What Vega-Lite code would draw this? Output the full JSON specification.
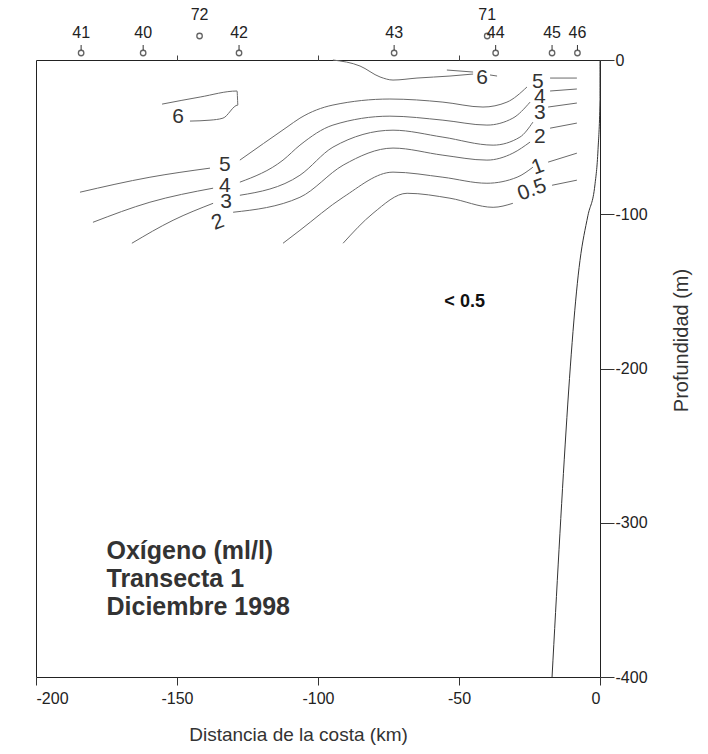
{
  "$schema": "https://vega.github.io/schema/vega-lite/v6.json",
  "width": 564,
  "height": 617,
  "autosize": "none",
  "padding": {"left": 36, "top": 60, "right": 108, "bottom": 77},
  "background": "white",
  "config": {
    "view": {"stroke": "#222", "strokeWidth": 1},
    "font": "Liberation Sans",
    "text": {"font": "Liberation Sans"}
  },
  "datasets": {
    "contours": [
      {"s": "c6a", "i": 0, "x": -94.7, "y": 0},
      {"s": "c6a", "i": 1, "x": -85.1, "y": -3.9},
      {"s": "c6a", "i": 2, "x": -78, "y": -11},
      {"s": "c6a", "i": 3, "x": -73.4, "y": -13},
      {"s": "c6a", "i": 4, "x": -64.9, "y": -11.7},
      {"s": "c6a", "i": 5, "x": -53.2, "y": -10.4},
      {"s": "c6a", "i": 6, "x": -45, "y": -9.1},
      {"s": "c6b", "i": 0, "x": -39, "y": -9.7},
      {"s": "c6b", "i": 1, "x": -36.5, "y": -10.4},
      {"s": "c6c", "i": 0, "x": -54.3, "y": -6.5},
      {"s": "c6c", "i": 1, "x": -45, "y": -7.8},
      {"s": "r5", "i": 0, "x": -17.7, "y": -11.7},
      {"s": "r5", "i": 1, "x": -8.2, "y": -11.7},
      {"s": "r4", "i": 0, "x": -17.7, "y": -20.1},
      {"s": "r4", "i": 1, "x": -8.2, "y": -18.8},
      {"s": "r3", "i": 0, "x": -18.4, "y": -30.5},
      {"s": "r3", "i": 1, "x": -8.2, "y": -27.9},
      {"s": "r2", "i": 0, "x": -17.7, "y": -44.2},
      {"s": "r2", "i": 1, "x": -8.2, "y": -40.9},
      {"s": "r1", "i": 0, "x": -18.4, "y": -66.2},
      {"s": "r1", "i": 1, "x": -8.2, "y": -60.4},
      {"s": "r05", "i": 0, "x": -17, "y": -81.2},
      {"s": "r05", "i": 1, "x": -8.2, "y": -77.9},
      {"s": "L6", "i": 0, "x": -155.3, "y": -28.6},
      {"s": "L6", "i": 1, "x": -141.8, "y": -24},
      {"s": "L6", "i": 2, "x": -128.7, "y": -20.1},
      {"s": "L6", "i": 3, "x": -128.4, "y": -29.2},
      {"s": "L6", "i": 4, "x": -133.7, "y": -37.7},
      {"s": "L6", "i": 5, "x": -138.3, "y": -39},
      {"s": "L6", "i": 6, "x": -145.4, "y": -39.6},
      {"s": "A", "i": 0, "x": -184.4, "y": -85.7},
      {"s": "A", "i": 1, "x": -159.6, "y": -76},
      {"s": "A", "i": 2, "x": -138.3, "y": -70.1},
      {"s": "B", "i": 0, "x": -179.8, "y": -105.2},
      {"s": "B", "i": 1, "x": -159.6, "y": -92.2},
      {"s": "B", "i": 2, "x": -137.2, "y": -83.1},
      {"s": "C", "i": 0, "x": -166, "y": -118.8},
      {"s": "C", "i": 1, "x": -151.4, "y": -103.9},
      {"s": "C", "i": 2, "x": -137.2, "y": -92.9},
      {"s": "m5", "i": 0, "x": -127.7, "y": -64.9},
      {"s": "m5", "i": 1, "x": -111, "y": -43.5},
      {"s": "m5", "i": 2, "x": -106.4, "y": -37.7},
      {"s": "m5", "i": 3, "x": -94.7, "y": -29.2},
      {"s": "m5", "i": 4, "x": -74.5, "y": -25.3},
      {"s": "m5", "i": 5, "x": -55.7, "y": -27.3},
      {"s": "m5", "i": 6, "x": -41.5, "y": -30.5},
      {"s": "m5", "i": 7, "x": -33, "y": -27.3},
      {"s": "m5", "i": 8, "x": -25.9, "y": -17.5},
      {"s": "m4", "i": 0, "x": -127.7, "y": -79.2},
      {"s": "m4", "i": 1, "x": -112.4, "y": -64.9},
      {"s": "m4", "i": 2, "x": -106.4, "y": -55.2},
      {"s": "m4", "i": 3, "x": -94.7, "y": -42.2},
      {"s": "m4", "i": 4, "x": -74.5, "y": -36.4},
      {"s": "m4", "i": 5, "x": -55.7, "y": -39},
      {"s": "m4", "i": 6, "x": -40.1, "y": -42.2},
      {"s": "m4", "i": 7, "x": -30.9, "y": -37.7},
      {"s": "m4", "i": 8, "x": -24.8, "y": -27.3},
      {"s": "m3", "i": 0, "x": -127.7, "y": -87.7},
      {"s": "m3", "i": 1, "x": -106.4, "y": -74.7},
      {"s": "m3", "i": 2, "x": -94.7, "y": -56.5},
      {"s": "m3", "i": 3, "x": -73.4, "y": -45.5},
      {"s": "m3", "i": 4, "x": -55.7, "y": -50},
      {"s": "m3", "i": 5, "x": -37.9, "y": -55.2},
      {"s": "m3", "i": 6, "x": -28.4, "y": -50},
      {"s": "m3", "i": 7, "x": -23.8, "y": -40.3},
      {"s": "m2", "i": 0, "x": -130.1, "y": -98.7},
      {"s": "m2", "i": 1, "x": -106.4, "y": -89},
      {"s": "m2", "i": 2, "x": -91.1, "y": -68.2},
      {"s": "m2", "i": 3, "x": -73.4, "y": -57.1},
      {"s": "m2", "i": 4, "x": -55.7, "y": -61.7},
      {"s": "m2", "i": 5, "x": -40.1, "y": -64.9},
      {"s": "m2", "i": 6, "x": -30.9, "y": -60.4},
      {"s": "m2", "i": 7, "x": -24.8, "y": -53.2},
      {"s": "m1", "i": 0, "x": -112.4, "y": -118.8},
      {"s": "m1", "i": 1, "x": -106.4, "y": -110.4},
      {"s": "m1", "i": 2, "x": -91.1, "y": -89},
      {"s": "m1", "i": 3, "x": -73.4, "y": -72.7},
      {"s": "m1", "i": 4, "x": -55.7, "y": -76},
      {"s": "m1", "i": 5, "x": -40.1, "y": -79.9},
      {"s": "m1", "i": 6, "x": -29.4, "y": -76},
      {"s": "m1", "i": 7, "x": -23.8, "y": -69.5},
      {"s": "m05", "i": 0, "x": -91.1, "y": -118.8},
      {"s": "m05", "i": 1, "x": -80.5, "y": -99.4},
      {"s": "m05", "i": 2, "x": -68.4, "y": -86.4},
      {"s": "m05", "i": 3, "x": -53.2, "y": -89.6},
      {"s": "m05", "i": 4, "x": -37.9, "y": -95.5},
      {"s": "m05", "i": 5, "x": -30.9, "y": -92.9}
    ],
    "bottom": [
      {"i": 0, "x": 0, "y": 0},
      {"i": 1, "x": 0, "y": -26},
      {"i": 2, "x": -0.7, "y": -58},
      {"i": 3, "x": -1.8, "y": -81},
      {"i": 4, "x": -4.3, "y": -101},
      {"i": 5, "x": -7.1, "y": -130},
      {"i": 6, "x": -17, "y": -400}
    ],
    "labels": [
      {"t": "6", "x": -149.6, "y": -37},
      {"t": "5", "x": -133, "y": -68.2},
      {"t": "4", "x": -133, "y": -81.8},
      {"t": "3", "x": -132.6, "y": -92.2},
      {"t": "6", "x": -41.8, "y": -11.7},
      {"t": "5", "x": -22, "y": -14.3},
      {"t": "4", "x": -21.3, "y": -24},
      {"t": "3", "x": -21.3, "y": -34.4},
      {"t": "2", "x": -21.3, "y": -50}
    ],
    "tilted": [
      {"t": "2", "x": -135.5, "y": -105.2},
      {"t": "1", "x": -22, "y": -69.5},
      {"t": "0.5", "x": -24.1, "y": -84.4}
    ],
    "stations": [
      {"st": "41", "km": -184, "row": 1},
      {"st": "40", "km": -162, "row": 1},
      {"st": "72", "km": -142, "row": 2},
      {"st": "42", "km": -128, "row": 1},
      {"st": "43", "km": -73, "row": 1},
      {"st": "71", "km": -40, "row": 2},
      {"st": "44", "km": -37, "row": 1},
      {"st": "45", "km": -17, "row": 1},
      {"st": "46", "km": -8, "row": 1}
    ],
    "notes": [
      {"t": "Oxígeno (ml/l)", "x": -175, "y": -318.2},
      {"t": "Transecta 1", "x": -175, "y": -336.4},
      {"t": "Diciembre 1998", "x": -175, "y": -354.5}
    ],
    "zone": [
      {"t": "< 0.5", "x": -48, "y": -157}
    ]
  },
  "resolve": {"axis": {"x": "independent", "y": "independent"}},
  "layer": [
    {
      "data": {"name": "contours"},
      "mark": {"type": "line", "stroke": "#6a6a6a", "strokeWidth": 1, "interpolate": "monotone"},
      "encoding": {
        "x": {
          "field": "x", "type": "quantitative",
          "scale": {"domain": [-200, 0], "nice": false, "zero": false},
          "axis": {
            "orient": "bottom", "values": [-200, -150, -100, -50, 0],
            "labelExpr": "toString(datum.value)",
            "title": "Distancia de la costa (km)", "titleFontSize": 19, "titleFontWeight": "normal",
            "titleColor": "#333", "titleFont": "Liberation Sans",
            "titleX": 262, "titleY": 57, "titleAlign": "center", "titleBaseline": "middle",
            "labelFontSize": 16, "labelColor": "#222", "labelFont": "Liberation Sans",
            "tickSize": 8, "tickColor": "#333", "domain": false, "grid": false, "labelPadding": 5
          }
        },
        "y": {
          "field": "y", "type": "quantitative",
          "scale": {"domain": [-400, 0], "nice": false, "zero": false},
          "axis": {
            "orient": "right", "values": [0, -100, -200, -300, -400],
            "labelExpr": "toString(datum.value)",
            "title": "Profundidad (m)", "titleFontSize": 20, "titleFontWeight": "normal",
            "titleColor": "#333", "titleFont": "Liberation Sans", "titleAngle": 270,
            "titleX": 81, "titleY": 280, "titleAlign": "center", "titleBaseline": "middle",
            "labelFontSize": 16, "labelColor": "#222", "labelFont": "Liberation Sans",
            "tickSize": 14, "tickColor": "#333", "domain": false, "grid": false, "labelPadding": 1
          }
        },
        "detail": {"field": "s"},
        "order": {"field": "i", "type": "quantitative"}
      }
    },
    {
      "data": {"name": "bottom"},
      "mark": {"type": "line", "stroke": "#333", "strokeWidth": 1, "interpolate": "monotone"},
      "encoding": {
        "x": {"field": "x", "type": "quantitative", "axis": null},
        "y": {"field": "y", "type": "quantitative", "axis": null},
        "order": {"field": "i", "type": "quantitative"}
      }
    },
    {
      "data": {"name": "labels"},
      "mark": {"type": "text", "fontSize": 21, "color": "#333", "baseline": "middle", "align": "center"},
      "encoding": {
        "x": {"field": "x", "type": "quantitative", "axis": null},
        "y": {"field": "y", "type": "quantitative", "axis": null},
        "text": {"field": "t"}
      }
    },
    {
      "data": {"name": "tilted"},
      "mark": {"type": "text", "fontSize": 21, "color": "#333", "baseline": "middle", "align": "center", "angle": -20},
      "encoding": {
        "x": {"field": "x", "type": "quantitative", "axis": null},
        "y": {"field": "y", "type": "quantitative", "axis": null},
        "text": {"field": "t"}
      }
    },
    {
      "data": {"name": "zone"},
      "mark": {"type": "text", "fontSize": 18, "fontWeight": "bold", "color": "#111", "baseline": "middle", "align": "center"},
      "encoding": {
        "x": {"field": "x", "type": "quantitative", "axis": null},
        "y": {"field": "y", "type": "quantitative", "axis": null},
        "text": {"field": "t"}
      }
    },
    {
      "data": {"name": "notes"},
      "mark": {"type": "text", "fontSize": 25, "fontWeight": "bold", "color": "#333", "baseline": "middle", "align": "left"},
      "encoding": {
        "x": {"field": "x", "type": "quantitative", "axis": null},
        "y": {"field": "y", "type": "quantitative", "axis": null},
        "text": {"field": "t"}
      }
    },
    {
      "data": {"name": "stations"},
      "transform": [{"filter": "datum.row == 1"}],
      "mark": {"type": "rule", "stroke": "#333", "strokeWidth": 1, "yOffset": -10, "y2Offset": -15},
      "encoding": {
        "x": {
          "field": "km", "type": "quantitative",
          "axis": {"orient": "top", "values": [-150, -100, -50], "labels": false, "title": null,
                   "domain": false, "grid": false, "tickSize": 5, "tickColor": "#444"}
        },
        "y": {"datum": 0, "axis": null},
        "y2": {"datum": 0}
      }
    },
    {
      "data": {"name": "stations"},
      "transform": [{"filter": "datum.row == 1"}],
      "mark": {"type": "point", "shape": "circle", "filled": false, "size": 30, "stroke": "#222", "strokeWidth": 1.3, "yOffset": -7},
      "encoding": {
        "x": {"field": "km", "type": "quantitative", "axis": null},
        "y": {"datum": 0, "axis": null}
      }
    },
    {
      "data": {"name": "stations"},
      "transform": [{"filter": "datum.row == 2"}],
      "mark": {"type": "point", "shape": "circle", "filled": false, "size": 30, "stroke": "#222", "strokeWidth": 1.3, "yOffset": -24},
      "encoding": {
        "x": {"field": "km", "type": "quantitative", "axis": null},
        "y": {"datum": 0, "axis": null}
      }
    },
    {
      "data": {"name": "stations"},
      "transform": [{"filter": "datum.row == 1"}],
      "mark": {"type": "text", "fontSize": 16, "color": "#222", "baseline": "middle", "align": "center", "dy": -27},
      "encoding": {
        "x": {"field": "km", "type": "quantitative", "axis": null},
        "y": {"datum": 0, "axis": null},
        "text": {"field": "st"}
      }
    },
    {
      "data": {"name": "stations"},
      "transform": [{"filter": "datum.row == 2"}],
      "mark": {"type": "text", "fontSize": 16, "color": "#222", "baseline": "middle", "align": "center", "dy": -45},
      "encoding": {
        "x": {"field": "km", "type": "quantitative", "axis": null},
        "y": {"datum": 0, "axis": null},
        "text": {"field": "st"}
      }
    }
  ]
}
